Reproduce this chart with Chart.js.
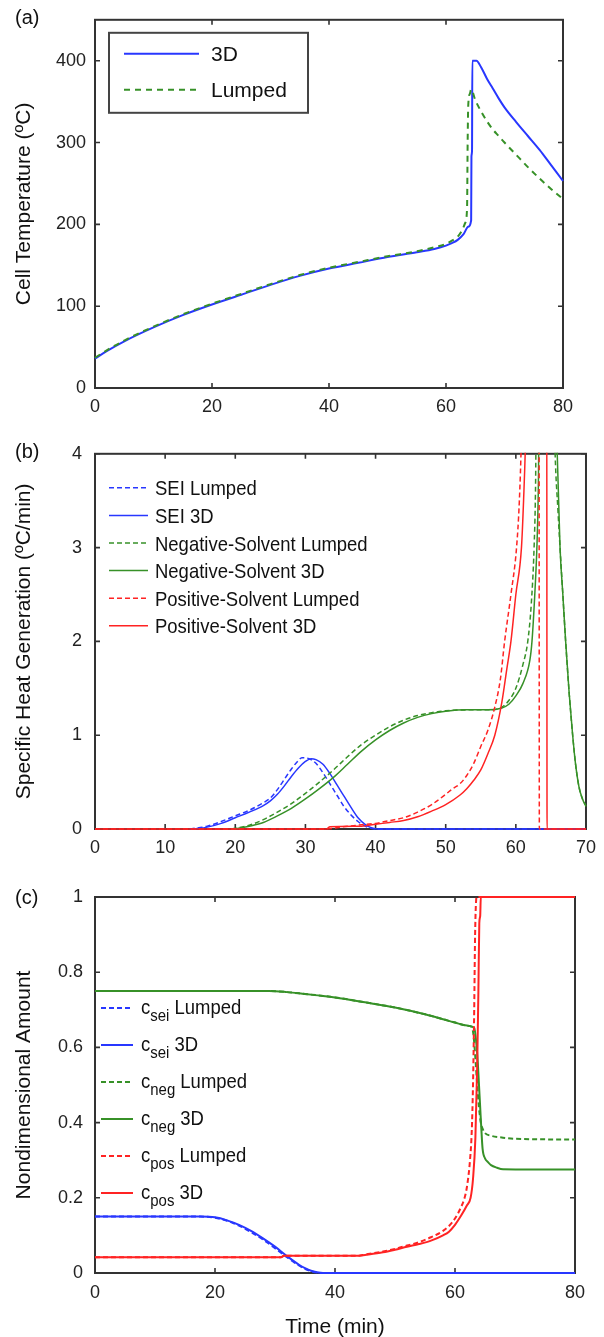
<!DOCTYPE html>
<html>
<head>
<meta charset="utf-8">
<script src="https://cdn.jsdelivr.net/npm/chart.js@4.4.1/dist/chart.umd.min.js"></script>
<style>
  body { margin: 0; background: #fff; }
  .panel { position: absolute; left: 0; width: 604px; }
  #panelA { top: 0; height: 430px; }
  #panelB { top: 430px; height: 440px; }
  #panelC { top: 870px; height: 467px; }
</style>
</head>
<body>
<div class="panel" id="panelA"><canvas id="chartA" width="604" height="430"></canvas></div>
<div class="panel" id="panelB"><canvas id="chartB" width="604" height="440"></canvas></div>
<div class="panel" id="panelC"><canvas id="chartC" width="604" height="467"></canvas></div>
<script>
// (a) cell temperature, deg C against time in minutes
const tempTime3D = [0, 2, 5, 10, 15, 20, 25, 30, 35, 40, 45, 50, 55, 58, 60, 61, 62, 63, 63.8, 64.3, 64.35, 64.45, 64.5, 65.2, 66, 67, 68, 69, 70, 72, 74, 76, 78, 80];
const temp3D = [36, 45, 57, 74, 89, 102, 114, 126, 137, 146, 153, 160, 166, 170, 174, 177, 181, 188, 197, 205, 283, 290, 400, 400, 392, 378, 366, 354, 343, 325, 308, 291, 272, 253];
const tempTimeLumped = [0, 2, 5, 10, 15, 20, 25, 30, 35, 40, 45, 50, 55, 58, 60, 61, 62, 62.7, 63.3, 63.6, 63.7, 63.8, 64.1, 64.3, 65, 66, 67, 68, 69, 70, 72, 74, 76, 78, 80];
const tempLumped = [37, 46, 58, 75, 90, 103, 115, 127, 138, 147, 154, 161, 167, 172, 176, 180, 185, 192, 202, 220, 300, 345, 360, 365, 352, 338, 326, 316, 308, 300, 285, 270, 256, 243, 231];

// (b) specific heat generation, deg C/min
const seiTimeLumped = [13.5, 16, 18, 20, 22, 24, 25, 26, 27, 28, 29, 29.5, 30.5, 31.5, 32.5, 33.5, 34.5, 35.5, 36.5, 37.5, 38.5, 39.5, 40, 70];
const seiHeatLumped = [0, 0.03, 0.08, 0.14, 0.2, 0.28, 0.33, 0.42, 0.53, 0.64, 0.73, 0.76, 0.75, 0.7, 0.6, 0.48, 0.36, 0.24, 0.15, 0.08, 0.03, 0.005, 0, 0];
const seiTime3D = [14, 16, 18, 20, 22, 24, 25, 26, 27, 28, 29, 30, 30.8, 31.5, 32.5, 33.5, 34.5, 35.5, 36.5, 37.5, 38.5, 39.5, 40.5, 70];
const seiHeat3D = [0, 0.02, 0.06, 0.12, 0.18, 0.25, 0.3, 0.37, 0.46, 0.56, 0.65, 0.72, 0.75, 0.74, 0.69, 0.59, 0.47, 0.35, 0.23, 0.12, 0.05, 0.01, 0, 0];
const negTimeLumped = [19.5, 22, 24, 26, 28, 30, 32, 34, 36, 38, 40, 42, 44, 46, 48, 50, 53, 56, 58, 59, 60, 61, 61.7, 62.2, 62.6, 62.8, 63, 65.3, 65.6, 66, 66.3, 66.7, 67.1, 67.6, 68.1, 68.5, 69, 69.5, 70];
const negHeatLumped = [0, 0.04, 0.1, 0.18, 0.27, 0.38, 0.5, 0.63, 0.77, 0.9, 1.0, 1.09, 1.16, 1.21, 1.24, 1.26, 1.27, 1.27, 1.3, 1.37, 1.5, 1.75, 2.0, 2.4, 3.0, 3.6, 5, 5, 4.0, 3.4, 3.0, 2.5, 2.0, 1.45, 1.0, 0.7, 0.45, 0.32, 0.25];
const negTime3D = [20, 22, 24, 26, 28, 30, 32, 34, 36, 38, 40, 42, 44, 46, 48, 50, 53, 56, 58, 59, 60, 61, 62, 62.3, 62.7, 63, 63.2, 63.4, 65.6, 65.9, 66.3, 66.7, 67.1, 67.6, 68.1, 68.5, 69, 69.5, 70];
const negHeat3D = [0, 0.03, 0.07, 0.14, 0.22, 0.32, 0.43, 0.55, 0.69, 0.83, 0.95, 1.05, 1.13, 1.19, 1.23, 1.255, 1.27, 1.27, 1.29, 1.33, 1.42, 1.55, 1.8, 2.0, 2.5, 3.0, 3.6, 5, 5, 4.0, 3.0, 2.5, 2.0, 1.45, 1.0, 0.7, 0.45, 0.32, 0.24];
const posTimeLumped = [0, 33, 35, 38, 40, 42, 44, 46, 48, 50, 51, 52, 53, 54, 55, 56, 57, 57.8, 58.4, 59.3, 60.1, 60.5, 60.8, 61.1, 63.3, 63.35, 70];
const posHeatLumped = [0, 0, 0.02, 0.045, 0.06, 0.09, 0.12, 0.18, 0.26, 0.37, 0.43, 0.48, 0.57, 0.7, 0.88, 1.05, 1.3, 1.6, 2.0, 2.5, 3.0, 3.5, 4.2, 5.5, 5.5, 0, 0];
const posTime3D = [0, 33, 33.5, 38, 39, 40, 42, 44, 46, 48, 50, 52, 53, 54, 55, 56, 57, 58, 58.7, 59.3, 60, 60.8, 61.1, 61.4, 61.7, 64.4, 64.45, 70];
const posHeat3D = [0, 0, 0.025, 0.03, 0.04, 0.05, 0.07, 0.09, 0.13, 0.19, 0.26, 0.36, 0.43, 0.52, 0.63, 0.8, 1.0, 1.35, 1.7, 2.0, 2.5, 3.0, 3.5, 4.2, 5.5, 5.5, 0, 0];

// (c) nondimensional amounts
const seiTimeC = [0, 17.5, 20, 22, 24, 26, 28, 30, 32, 34, 35, 36, 37, 38, 80];
const seiAmtLumped = [0.15, 0.15, 0.147, 0.139, 0.126, 0.109, 0.089, 0.066, 0.042, 0.02, 0.011, 0.005, 0.001, 0, 0];
const seiAmt3D = [0.15, 0.15, 0.148, 0.14, 0.128, 0.112, 0.092, 0.07, 0.045, 0.022, 0.013, 0.006, 0.002, 0, 0];
const negTimeCLumped = [0, 29, 32, 35, 38, 40, 45, 50, 55, 58, 60, 62, 62.8, 63.1, 63.4, 63.7, 64.0, 64.3, 64.7, 65, 66, 68, 70, 80];
const negAmtLumped = [0.75, 0.75, 0.747, 0.742, 0.737, 0.733, 0.72, 0.706, 0.688, 0.675, 0.666, 0.658, 0.654, 0.63, 0.57, 0.5, 0.44, 0.4, 0.38, 0.372, 0.365, 0.36, 0.357, 0.355];
const negTimeC3D = [0, 29, 32, 35, 38, 40, 45, 50, 55, 58, 60, 62, 63.2, 63.5, 63.8, 64.0, 64.2, 64.4, 64.6, 65, 65.5, 66, 67, 68, 80];
const negAmt3D = [0.75, 0.75, 0.747, 0.742, 0.737, 0.733, 0.72, 0.706, 0.688, 0.675, 0.666, 0.658, 0.652, 0.62, 0.56, 0.5, 0.44, 0.38, 0.33, 0.305, 0.295, 0.287, 0.28, 0.276, 0.275];
const posTimeCLumped = [0, 31, 31.5, 44, 45, 48, 50, 52, 54, 56, 58, 59, 60, 61, 61.6, 62, 62.5, 62.8, 63, 63.2, 63.35, 63.6, 80];
const posAmtLumped = [0.042, 0.042, 0.046, 0.046, 0.049, 0.057, 0.064, 0.073, 0.082, 0.095, 0.112, 0.125, 0.145, 0.175, 0.2, 0.23, 0.3, 0.38, 0.5, 0.7, 0.9, 1.0, 1.0];
const posTimeC3D = [0, 31, 31.5, 44, 45, 48, 50, 52, 54, 56, 58, 59, 60, 61, 62, 62.6, 63, 63.4, 63.7, 63.9, 64.05, 64.2, 64.3, 80];
const posAmt3D = [0.042, 0.042, 0.046, 0.046, 0.048, 0.055, 0.062, 0.07, 0.077, 0.086, 0.1, 0.11, 0.128, 0.152, 0.18, 0.2, 0.25, 0.36, 0.55, 0.75, 0.93, 0.95, 1.0, 1.0];

const FONT = '"Liberation Sans", Arial, Helvetica, sans-serif';
const BLUE = 'rgb(40, 55, 255)';
const GREEN = 'rgb(55, 145, 40)';
const RED = 'rgb(255, 35, 35)';

function pts(xs, ys) {
  return xs.map((x, i) => ({ x: x, y: ys[i] }));
}

function series(xs, ys, color, dashed, width, dash) {
  return {
    data: pts(xs, ys),
    borderColor: color,
    borderWidth: width,
    borderDash: dashed ? dash : [],
    pointRadius: 0,
    cubicInterpolationMode: 'monotone',
    clip: { left: 1, top: 1, right: 1, bottom: 2 },
    fill: false
  };
}

function axis(min, max, step, pad, fmt) {
  const a = {
    type: 'linear', min: min, max: max,
    grid: { display: false, drawTicks: false },
    border: { display: false },
    ticks: {
      stepSize: step, includeBounds: false, padding: pad, color: '#222',
      autoSkip: false, maxRotation: 0,
      font: { family: FONT, size: 18 }
    }
  };
  if (fmt) a.ticks.callback = fmt;
  return a;
}

// box round the plot with inward tick marks on all four sides
const framePlugin = {
  id: 'frame',
  beforeDatasetsDraw(chart) {
    const { ctx, chartArea: a, scales } = chart;
    ctx.save();
    ctx.strokeStyle = '#333';
    ctx.lineWidth = 2;
    ctx.strokeRect(a.left, a.top, a.right - a.left, a.bottom - a.top);
    ctx.lineWidth = 1.6;
    ctx.beginPath();
    scales.x.ticks.forEach(t => {
      const px = scales.x.getPixelForValue(t.value);
      ctx.moveTo(px, a.bottom); ctx.lineTo(px, a.bottom - 5);
      ctx.moveTo(px, a.top); ctx.lineTo(px, a.top + 5);
    });
    scales.y.ticks.forEach(t => {
      const py = scales.y.getPixelForValue(t.value);
      ctx.moveTo(a.left, py); ctx.lineTo(a.left + 5, py);
      ctx.moveTo(a.right, py); ctx.lineTo(a.right - 5, py);
    });
    ctx.stroke();
    ctx.restore();
  }
};

// text drawn horizontally squeezed by sx, returns advance
function squeezed(ctx, text, x, y, size, sx) {
  ctx.font = size + 'px ' + FONT;
  ctx.save();
  ctx.translate(x, y);
  ctx.scale(sx, 1);
  ctx.fillText(text, 0, 0);
  ctx.restore();
  return ctx.measureText(text).width * sx;
}

function legendLine(ctx, ds, x0, x1, y) {
  ctx.save();
  ctx.strokeStyle = ds.borderColor;
  ctx.lineWidth = ds.borderWidth;
  ctx.setLineDash(ds.borderDash);
  ctx.beginPath();
  ctx.moveTo(x0, y);
  ctx.lineTo(x1, y);
  ctx.stroke();
  ctx.restore();
}

// panel letter, axis titles and legend
function textPlugin(o) {
  return {
    id: 'text' + o.panel,
    afterDraw(chart) {
      const { ctx, chartArea: a } = chart;
      const sets = chart.data.datasets;
      ctx.save();
      ctx.fillStyle = '#111';
      ctx.textAlign = 'left';
      ctx.textBaseline = 'middle';
      ctx.font = '20px ' + FONT;
      ctx.fillText(o.panel, 15, o.panelY);

      ctx.save();
      ctx.font = '21px ' + FONT;
      ctx.textAlign = 'center';
      ctx.translate(24, (a.top + a.bottom) / 2);
      ctx.rotate(-Math.PI / 2);
      ctx.fillText(o.yTitle, 0, 0);
      ctx.restore();

      if (o.xTitle) {
        ctx.font = '21px ' + FONT;
        ctx.textAlign = 'center';
        ctx.fillText(o.xTitle, (a.left + a.right) / 2, o.xTitleY);
      }

      const lg = o.legend;
      ctx.textAlign = 'left';
      ctx.textBaseline = 'alphabetic';
      if (lg.box) {
        ctx.fillStyle = '#fff';
        ctx.fillRect(a.left + lg.box[0], a.top + lg.box[1], lg.box[2], lg.box[3]);
        ctx.strokeStyle = '#444';
        ctx.lineWidth = 2;
        ctx.strokeRect(a.left + lg.box[0], a.top + lg.box[1], lg.box[2], lg.box[3]);
      }
      ctx.fillStyle = '#111';
      lg.labels.forEach((parts, i) => {
        const ds = sets[lg.order[i]];
        const y = a.top + lg.y0 + i * lg.dy;
        legendLine(ctx, ds, a.left + lg.x0, a.left + lg.x1, y);
        let x = a.left + lg.tx;
        parts.forEach(p => {
          if (p.sub) x += squeezed(ctx, p.t, x, y + lg.base + 7.5, lg.subSize, lg.sx);
          else x += squeezed(ctx, p.t, x, y + lg.base, lg.size, lg.sx);
        });
      });
      ctx.restore();
    }
  };
}

function makeChart(id, datasets, x, y, pad, xHeight, text) {
  x.afterFit = s => { s.height = xHeight; };
  y.afterFit = s => { s.width = 95; };
  return new Chart(document.getElementById(id), {
    type: 'line',
    data: { datasets: datasets },
    options: {
      responsive: false,
      animation: false,
      events: [],
      layout: { padding: { left: 0, top: pad.top, right: pad.right, bottom: 0 } },
      plugins: { legend: { display: false }, tooltip: { enabled: false } },
      scales: { x: x, y: y }
    },
    plugins: [framePlugin, textPlugin(text)]
  });
}

// (a)
const setsA = [
  series(tempTime3D, temp3D, BLUE, false, 2),
  series(tempTimeLumped, tempLumped, GREEN, true, 2, [6, 5])
];
setsA.forEach((d, i) => { d.order = setsA.length - i; });
makeChart('chartA', setsA,
  axis(0, 80, 20, 8), axis(0, 450, 100, 9),
  { top: 13, right: 41 }, 42,
  {
    panel: '(a)', panelY: 18, yTitle: 'Cell Temperature (\u00baC)',
    legend: {
      box: [14, 13, 199, 80], order: [0, 1],
      labels: [[{ t: '3D' }], [{ t: 'Lumped' }]],
      x0: 29, x1: 104, tx: 116, y0: 34, dy: 36, base: 7.5, size: 21, sx: 1
    }
  });

// (b)
const DASH = [5, 3];
const setsB = [
  series(seiTimeLumped, seiHeatLumped, BLUE, true, 1.5, DASH),
  series(seiTime3D, seiHeat3D, BLUE, false, 1.5),
  series(negTimeLumped, negHeatLumped, GREEN, true, 1.5, DASH),
  series(negTime3D, negHeat3D, GREEN, false, 1.5),
  series(posTimeLumped, posHeatLumped, RED, true, 1.5, DASH),
  series(posTime3D, posHeat3D, RED, false, 1.5)
];
setsB.forEach((d, i) => { d.order = setsB.length - i; });
makeChart('chartB', setsB,
  axis(0, 70, 10, 8), axis(0, 4, 1, 13),
  { top: 23, right: 17 }, 41,
  {
    panel: '(b)', panelY: 22, yTitle: 'Specific Heat Generation (\u00baC/min)',
    legend: {
      order: [0, 1, 2, 3, 4, 5],
      labels: [
        [{ t: 'SEI Lumped' }], [{ t: 'SEI 3D' }],
        [{ t: 'Negative-Solvent Lumped' }], [{ t: 'Negative-Solvent 3D' }],
        [{ t: 'Positive-Solvent Lumped' }], [{ t: 'Positive-Solvent 3D' }]
      ],
      x0: 14, x1: 53, tx: 60, y0: 34, dy: 27.6, base: 7.5, size: 21, sx: 0.88
    }
  });

// (c)
const setsC = [
  series(seiTimeC, seiAmtLumped, BLUE, true, 2, DASH),
  series(seiTimeC, seiAmt3D, BLUE, false, 2),
  series(negTimeCLumped, negAmtLumped, GREEN, true, 2, DASH),
  series(negTimeC3D, negAmt3D, GREEN, false, 2),
  series(posTimeCLumped, posAmtLumped, RED, true, 2, DASH),
  series(posTimeC3D, posAmt3D, RED, false, 2)
];
setsC.forEach((d, i) => { d.order = setsC.length - i; });
makeChart('chartC', setsC,
  axis(0, 80, 20, 9), axis(0, 1, 0.2, 12, v => String(+v.toFixed(1))),
  { top: 27, right: 29 }, 64,
  {
    panel: '(c)', panelY: 28, yTitle: 'Nondimensional Amount',
    xTitle: 'Time (min)', xTitleY: 457,
    legend: {
      order: [0, 1, 2, 3, 4, 5],
      labels: [
        [{ t: 'c' }, { t: 'sei', sub: true }, { t: ' Lumped' }],
        [{ t: 'c' }, { t: 'sei', sub: true }, { t: ' 3D' }],
        [{ t: 'c' }, { t: 'neg', sub: true }, { t: ' Lumped' }],
        [{ t: 'c' }, { t: 'neg', sub: true }, { t: ' 3D' }],
        [{ t: 'c' }, { t: 'pos', sub: true }, { t: ' Lumped' }],
        [{ t: 'c' }, { t: 'pos', sub: true }, { t: ' 3D' }]
      ],
      x0: 6, x1: 38, tx: 46, y0: 111, dy: 37, base: 5.5, size: 21, subSize: 17, sx: 0.88
    }
  });
</script>
</body>
</html>
